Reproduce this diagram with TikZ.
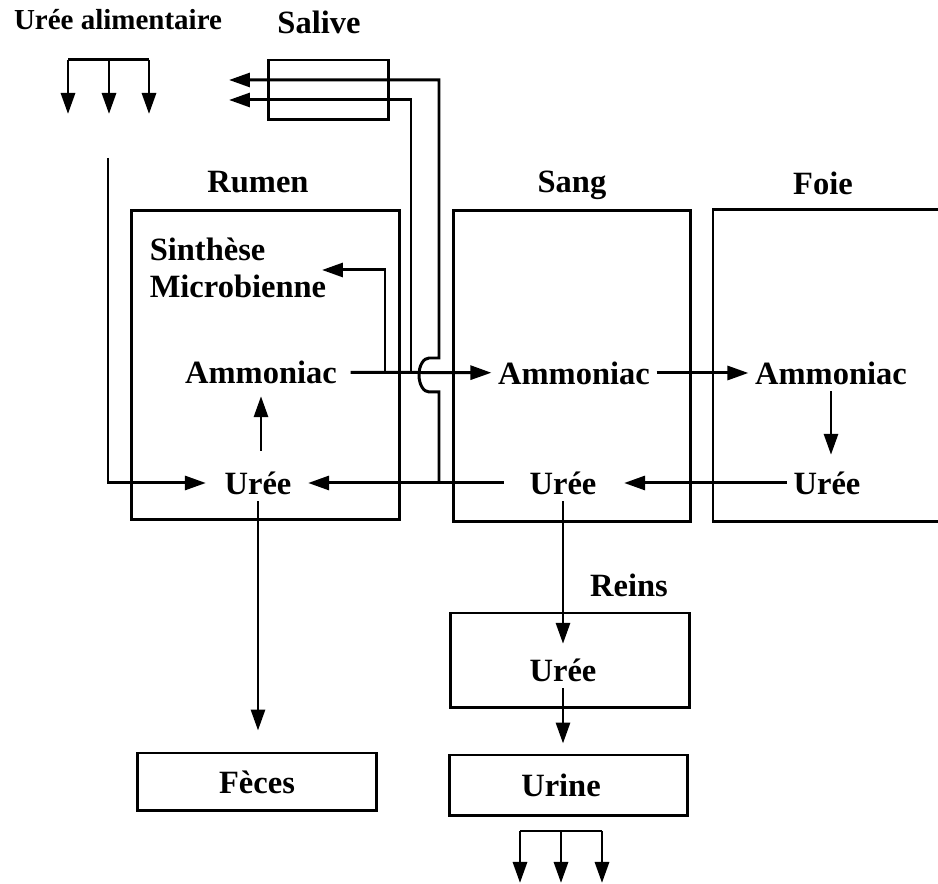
\documentclass[tikz,border=0pt]{standalone}
\usepackage{fontspec}
\setmainfont{Liberation Serif}
\usetikzlibrary{arrows.meta}

\begin{document}
\begin{tikzpicture}[x=0.02cm, y=-0.02cm, line width=1.7pt,
  lbl/.style={font=\bfseries\fontsize{18.5}{21}\selectfont, inner sep=3pt},
  box/.style={draw, inner sep=0pt, font=\bfseries\fontsize{18.5}{21}\selectfont},
  arr/.style={-{Triangle[length=0.42cm, width=0.28cm]}}]
  \useasboundingbox (0,0) rectangle (938,884);

  % Boxes
  \node[box, minimum width=5.38cm, minimum height=6.2cm] (rumen) at (265.5,365) {};
  \node[box, minimum width=4.76cm, minimum height=6.24cm] (sang) at (572,366) {};
  \node[box, minimum width=4.8cm, minimum height=1.9cm] (reins) at (570,660.5) {};
  \node[box, minimum width=4.78cm, minimum height=1.22cm, text depth=0pt] (urine) at (568.5,785.5) {\hspace{-0.3cm}Urine};
  \node[box, minimum width=4.8cm, minimum height=1.16cm] (feces) at (257,782) {Fèces};
  \node[box, minimum width=2.42cm, minimum height=1.2cm] (salive) at (328.5,90) {};
  % Foie box, cut by the right edge
  \draw (938,210) -| (713,522) -- (938,522);

  % Labels
  \node[lbl, font=\bfseries\fontsize{16.5}{20}\selectfont] (ureeAlim) at (118,20) {Urée alimentaire};
  \node[lbl] (saliveL) at (319,22) {Salive};
  \node[lbl] (rumenL) at (258,182) {Rumen};
  \node[lbl] (sangL) at (572,185) {Sang};
  \node[lbl] (foieL) at (823,183) {Foie};
  \node[lbl] (reinsL) at (629,585) {Reins};
  \node[lbl, align=left, anchor=west] (synth) at (143,268) {Sinthèse\\Microbienne};

  % Nodes
  \node[lbl] (amR) at (261,372) {Ammoniac};
  \node[lbl] (amS) at (574,373) {Ammoniac};
  \node[lbl] (amF) at (831,373) {Ammoniac};
  \node[lbl] (ureeR) at (258,483) {Urée};
  \node[lbl] (ureeS) at (563,483) {Urée};
  \node[lbl] (ureeF) at (827,483) {Urée};
  \node[lbl] (ureeK) at (563,670) {Urée};

  \coordinate (alimA) at (108,158);
  \coordinate (salA) at (229,80);
  \coordinate (salB) at (229,100);
  \coordinate (synthA) at (385,373);
  \coordinate (synthT) at (322,270);
  \coordinate (salJ) at (411,373);
  \coordinate (salK) at (439,483);

  % Dietary urea and urine out
  \foreach \x [count=\i] in {68,109,149} {
    \coordinate (alim\i) at (\x,60);
    \draw[arr] (alim\i) -- ++(0,54);
  }
  \draw (alim1) -- (alim3);
  \foreach \x [count=\i] in {520,561,602} {
    \coordinate (out\i) at (\x,831);
    \draw[arr] (out\i) -- ++(0,52);
  }
  \draw (out1) -- (out3);

  % Paths
  \draw[arr, shorten >=0.24cm] (alimA) |- (ureeR.west);
  \draw[arr, shorten <=0.28cm, shorten >=0.12cm] (amR.south |- ureeR.north) -- (amR.south);
  \draw[arr, shorten <=0.14cm] (amR) -- (amS);
  \draw[arr] (synthA) |- (synthT);
  \draw[arr] (salJ) |- (salB);
  \draw[arr] (salK) -- ++(0,-91) -- ++(-10,0)
    arc[start angle=-90, end angle=-270, x radius=0.2cm, y radius=0.34cm]
    -- ++(10,0) |- (salA);
  \draw[arr] (amS) -- (amF);
  \draw[arr, shorten >=0.2cm] (amF.south) -- (amF.south |- ureeF.north);
  \draw[arr, shorten >=0.42cm] (ureeF) -- (ureeS);
  \draw[arr, shorten <=0.38cm, shorten >=0.2cm] (ureeS) -- (ureeR);
  \draw[arr, shorten >=0.42cm] (ureeR.south) -- (ureeR.south |- feces.north);
  \draw[arr, shorten >=0.16cm] (ureeS.south) -- (ureeK.north);
  \draw[arr, shorten >=0.2cm] (ureeK.south) -- (ureeK.south |- urine.north);
\end{tikzpicture}
\end{document}
